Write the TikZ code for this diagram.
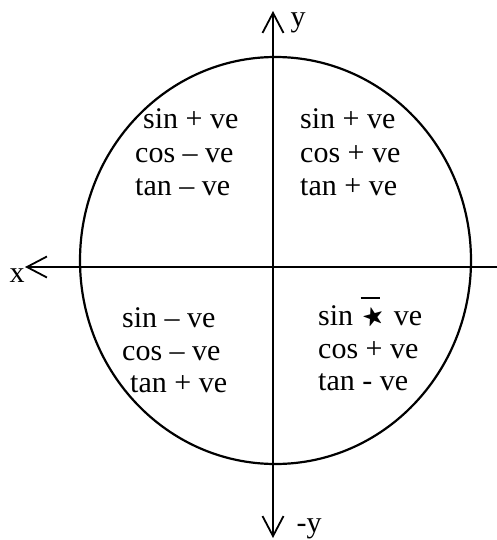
\documentclass[tikz,border=0pt]{standalone}
\usepackage{amssymb}
\usepackage{fontspec}
\setmainfont{Liberation Serif}
\usetikzlibrary{arrows.meta}

\tikzset{
  trig/.style={anchor=base west, inner sep=0pt, font=\fontsize{30}{33}\selectfont},
  lbl/.style={anchor=base, inner sep=0pt, font=\fontsize{30}{33}\selectfont},
  tip/.style={Straight Barb[length=20pt,width=21pt,line width=1.8pt]},
  axis/.style={line width=1.8pt}
}

\begin{document}
\begin{tikzpicture}[x=1pt,y=-1pt]
\useasboundingbox (0,0) rectangle (497,540);
\coordinate (O) at (275.5,260.5);
\coordinate (xr) at (497,267);
\coordinate (xl) at (25,267);
\coordinate (yb) at (273,538);
\coordinate (yt) at (273,11);
\draw[line width=2.2pt] (O) ellipse [x radius=195.5, y radius=203.5];
\draw[axis, -{Straight Barb[length=20pt,width=21pt,line width=1.8pt]}] (xr) -- (xl);
\draw[axis, {Straight Barb[length=20pt,width=21pt,line width=1.8pt]}-{Straight Barb[length=20pt,width=21pt,line width=1.8pt]}] (yb) -- (yt);
\node[lbl] (xlab) at (17,282) {x};
\node[lbl] (ylab) at (298,27) {y};
\node[lbl] (nylab) at (309,532) {-y};
% first quadrant
\node[trig] (sinI) at (300,129) {sin + ve};
\node[trig] (cosI) at (300,162) {cos + ve};
\node[trig] (tanI) at (300,195) {tan + ve};
% second quadrant
\node[trig] (sinII) at (143,129) {sin + ve};
\node[trig] (cosII) at (135,162) {cos – ve};
\node[trig] (tanII) at (135,195) {tan – ve};
% third quadrant
\node[trig] (sinIII) at (122,327) {sin – ve};
\node[trig] (cosIII) at (122,360) {cos – ve};
\node[trig] (tanIII) at (130,392) {tan + ve};
% fourth quadrant
\node[trig] (sinIV) at (318,325) {sin \rlap{\raisebox{26pt}{\rule{19pt}{2pt}}}\rotatebox{15}{\scalebox{0.75}{$\bigstar$}} ve};
\node[trig] (cosIV) at (318,358) {cos + ve};
\node[trig] (tanIV) at (318,390) {tan - ve};
\end{tikzpicture}
\end{document}
